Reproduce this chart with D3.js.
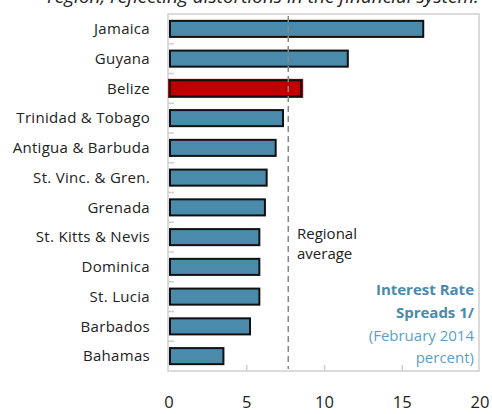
<!DOCTYPE html>
<html>
<head>
<meta charset="utf-8">
<script src="https://d3js.org/d3.v7.min.js"></script>
<style>
  body { margin: 0; background: #fff; }
  svg { display: block; font-family: "Open Sans", "Noto Sans", sans-serif; }
</style>
</head>
<body>
<script>
// data
var countries = ["Jamaica", "Guyana", "Belize", "Trinidad & Tobago", "Antigua & Barbuda",
  "St. Vinc. & Gren.", "Grenada", "St. Kitts & Nevis", "Dominica", "St. Lucia",
  "Barbados", "Bahamas"];
var spreads = [16.35, 11.5, 8.5, 7.33, 6.86, 6.28, 6.17, 5.81, 5.81, 5.81, 5.21, 3.5];
var highlight = "Belize";
var regionalAvg = 7.67;
var xTicks = [0, 5, 10, 15, 20];

var W = 492, H = 414;
var pLeft = 168, pRight = 479, pTop = 14, pBottom = 371;

var svg = d3.select("body").append("svg")
  .attr("width", W).attr("height", H);

// clipped title line at very top
svg.append("text")
  .attr("x", 263).attr("y", 3)
  .attr("text-anchor", "middle")
  .style("font-style", "italic")
  .style("font-size", "19px")
  .style("fill", "#222")
  .text("region, reflecting distortions in the financial system.");

var x = d3.scaleLinear().domain([0, 20]).range([pLeft + 1, pRight + 1]);
var y = d3.scaleBand().domain(countries).range([pTop, pBottom]).paddingInner(0.46).paddingOuter(0.23);

// frame
svg.append("rect")
  .attr("x", pLeft).attr("y", pTop)
  .attr("width", pRight - pLeft).attr("height", pBottom - pTop)
  .attr("fill", "none").attr("stroke", "#cfcfcf").attr("stroke-width", 1.5);

// y ticks at band boundaries
var step = (pBottom - pTop) / countries.length;
svg.selectAll(".ytick").data(d3.range(1, countries.length))
  .enter().append("line")
  .attr("x1", pLeft).attr("x2", pLeft + 6)
  .attr("y1", function(d) { return pTop + d * step; })
  .attr("y2", function(d) { return pTop + d * step; })
  .attr("stroke", "#cfcfcf").attr("stroke-width", 1.5);

// x ticks on bottom edge
svg.selectAll(".xtick").data(xTicks.slice(1, -1))
  .enter().append("line")
  .attr("x1", function(d) { return x(d); }).attr("x2", function(d) { return x(d); })
  .attr("y1", pBottom - 6).attr("y2", pBottom)
  .attr("stroke", "#cfcfcf").attr("stroke-width", 1.5);

// red halo behind highlighted bar
svg.selectAll(".halo").data(countries.filter(function(c) { return c == highlight; }))
  .enter().append("rect")
  .attr("x", x(0) - 1)
  .attr("y", function(d) { return y(d) - 1.5; })
  .attr("width", function(d) { return x(spreads[countries.indexOf(d)]) - x(0) + 3; })
  .attr("height", y.bandwidth() + 3)
  .attr("fill", "#c00000");

// bars
svg.selectAll(".bar").data(countries)
  .enter().append("rect")
  .attr("x", x(0) + 1)
  .attr("y", function(d) { return y(d); })
  .attr("width", function(d, i) { return x(spreads[i]) - x(0) - 1; })
  .attr("height", y.bandwidth())
  .attr("fill", function(d) { return d == highlight ? "#c00000" : "#4a8aab"; })
  .attr("stroke", "#111").attr("stroke-width", 2);

// regional average line
svg.append("line")
  .attr("x1", x(regionalAvg)).attr("x2", x(regionalAvg))
  .attr("y1", pTop + 2).attr("y2", pBottom - 2)
  .attr("stroke", "#888").attr("stroke-width", 1.5)
  .attr("stroke-dasharray", "6,4");

svg.append("text")
  .attr("x", 297).attr("y", 239)
  .style("font-size", "15px").style("fill", "#222")
  .selectAll("tspan").data(["Regional", "average"])
  .enter().append("tspan")
  .attr("x", 297).attr("dy", function(d, i) { return i == 0 ? 0 : 20; })
  .text(function(d) { return d; });

// category labels
svg.selectAll(".ylab").data(countries)
  .enter().append("text")
  .attr("x", 150)
  .attr("y", function(d) { return y(d) + y.bandwidth() / 2; })
  .attr("dy", "0.35em")
  .attr("text-anchor", "end")
  .style("font-size", "15px").style("letter-spacing", "0.3px").style("fill", "#222")
  .text(function(d) { return d; });

// x tick labels
svg.selectAll(".xlab").data(xTicks)
  .enter().append("text")
  .attr("x", function(d) { return x(d); })
  .attr("y", 408)
  .attr("text-anchor", "middle")
  .style("font-size", "16.5px").style("fill", "#222")
  .text(function(d) { return d; });

// in-chart title
var notes = [
  { t: "Interest Rate", w: "bold", c: "#4a8aab", y: 295 },
  { t: "Spreads 1/", w: "bold", c: "#4a8aab", y: 318 },
  { t: "(February 2014", w: "normal", c: "#5b9fc6", y: 341 },
  { t: "percent)", w: "normal", c: "#5b9fc6", y: 363 }
];
svg.selectAll(".note").data(notes)
  .enter().append("text")
  .attr("x", 474).attr("y", function(d) { return d.y; })
  .attr("text-anchor", "end")
  .style("font-size", "15px")
  .style("font-weight", function(d) { return d.w; })
  .style("fill", function(d) { return d.c; })
  .text(function(d) { return d.t; });
</script>
</body>
</html>
